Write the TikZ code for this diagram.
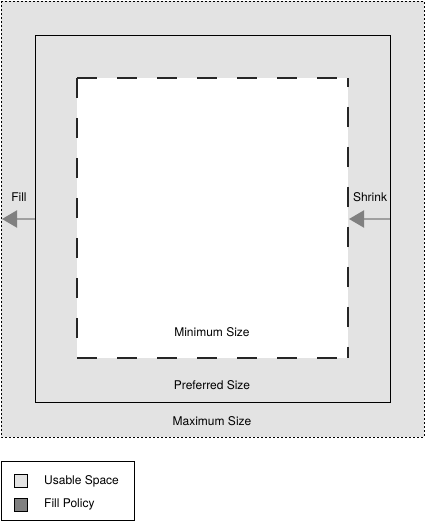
\documentclass[tikz,border=0pt]{standalone}
\usepackage{fontspec}
\setmainfont{TeX Gyre Heros}
\usetikzlibrary{arrows.meta}
\definecolor{usable}{HTML}{E3E3E3}
\definecolor{policy}{HTML}{808080}
\definecolor{arrowline}{HTML}{A0A0A0}
\begin{document}
\begin{tikzpicture}[x=1pt,y=-1pt,
  lbl/.style={font=\fontsize{12}{14}\selectfont, inner sep=0pt, anchor=center},
  policyarrow/.style={draw=arrowline, line width=2pt, -{Triangle[length=15pt,width=17pt,color=policy]}},
  legbox/.style={draw=black, line width=0.6pt, minimum width=13pt, minimum height=13pt, inner sep=0pt}]
\useasboundingbox (0,0) rectangle (425,522);
% maximum
\draw[fill=usable, line width=0.9pt, dash pattern=on 2pt off 2pt] (1,1) rectangle (424,437);
% preferred
\draw[line width=1pt] (35,35) rectangle (390,402);
% minimum
\fill[white] (77,78) rectangle (348,358);
\draw[line width=1.2pt, black!85, dash pattern=on 20pt off 20pt] (77,78) -- (348,78);
\draw[line width=1.2pt, black!85, dash pattern=on 20pt off 20pt] (77,78) -- (77,358) -- (348,358);
\draw[line width=1.2pt, black!85, dash pattern=on 20pt off 20pt, dash phase=11pt] (348,78) -- (348,358);
% coordinates for arrows
\coordinate (fillstart) at (35,219);
\coordinate (fillend) at (2,219);
\coordinate (shrinkstart) at (390,219);
\coordinate (shrinkend) at (349,219);
\draw[policyarrow] (fillstart) -- (fillend);
\draw[policyarrow] (shrinkstart) -- (shrinkend);
% labels
\node[lbl] (fill) at (19,197) {Fill};
\node[lbl] (shrink) at (370,197) {Shrink};
\node[lbl] (min) at (212,332) {Minimum Size};
\node[lbl] (pref) at (212,385) {Preferred Size};
\node[lbl] (max) at (212,421) {Maximum Size};
% legend
\draw[line width=0.8pt] (1,461) rectangle (134,520);
\node[legbox, fill=usable] (usq) at (20.5,481) {};
\node[legbox, fill=policy] (psq) at (20.5,504.5) {};
\node[lbl, anchor=west] (ulbl) at (44,481) {Usable Space};
\node[lbl, anchor=west] (plbl) at (44,504.5) {Fill Policy};
\end{tikzpicture}
\end{document}
